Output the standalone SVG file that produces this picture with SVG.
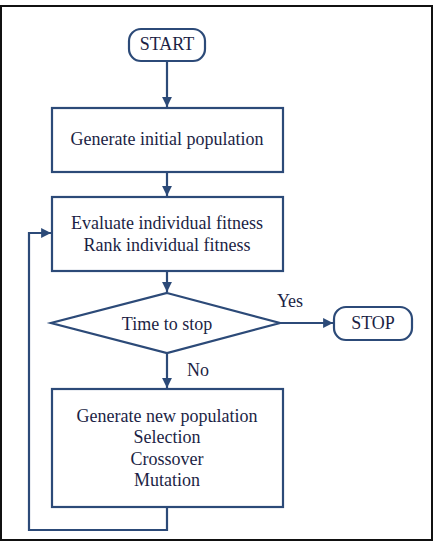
<svg xmlns="http://www.w3.org/2000/svg" width="436" height="542" viewBox="0 0 436 542">
<style>
.n{fill:#fff;stroke:#2c4a78;stroke-width:2.2}
.t{font-family:"Liberation Serif","Times New Roman",serif;font-size:18px;fill:#1c1f45;text-anchor:middle;dominant-baseline:central}
.c{fill:none;stroke:#2c4a78;stroke-width:2.2}
</style>
<defs>
<marker id="ah" viewBox="0 0 10 10" refX="10" refY="5" markerWidth="4.5" markerHeight="4.5" orient="auto" markerUnits="strokeWidth">
<path d="M0,0 L10,5 L0,10 z" fill="#2c4a78"/>
</marker>
</defs>
<rect x="1" y="6" width="431" height="534" fill="#fff" stroke="#111" stroke-width="2"/>
<g id="start">
<rect class="n" x="129" y="29" width="76" height="32" rx="12"/>
<text class="t" x="167" y="44">START</text>
</g>
<g id="init">
<rect class="n" x="52" y="108" width="231" height="64"/>
<text class="t" x="167" y="139">Generate initial population</text>
</g>
<g id="eval">
<rect class="n" x="52" y="197" width="231" height="74"/>
<text class="t" x="167" y="223">Evaluate individual fitness</text>
<text class="t" x="167" y="245">Rank individual fitness</text>
</g>
<g id="decide">
<polygon class="n" points="167,293 280,323 167,353 51,323"/>
<text class="t" x="167" y="324">Time to stop</text>
</g>
<g id="stop">
<rect class="n" x="334" y="307" width="78" height="33" rx="12"/>
<text class="t" x="373" y="323">STOP</text>
</g>
<g id="newpop">
<rect class="n" x="52" y="389" width="231" height="118"/>
<text class="t" x="167" y="416">Generate new population</text>
<text class="t" x="167" y="437">Selection</text>
<text class="t" x="167" y="459">Crossover</text>
<text class="t" x="167" y="480">Mutation</text>
</g>
<g id="connectors">
<line class="c" x1="167" y1="61" x2="167" y2="107" marker-end="url(#ah)"/>
<line class="c" x1="167" y1="172" x2="167" y2="196" marker-end="url(#ah)"/>
<line class="c" x1="167" y1="271" x2="167" y2="292" marker-end="url(#ah)"/>
<line class="c" x1="280" y1="323" x2="333" y2="323" marker-end="url(#ah)"/>
<line class="c" x1="167" y1="353" x2="167" y2="388" marker-end="url(#ah)"/>
<polyline class="c" points="167,507 167,530 29,530 29,233 51,233" marker-end="url(#ah)"/>
<text class="t" x="290" y="301">Yes</text>
<text class="t" x="198" y="370">No</text>
</g>
</svg>
